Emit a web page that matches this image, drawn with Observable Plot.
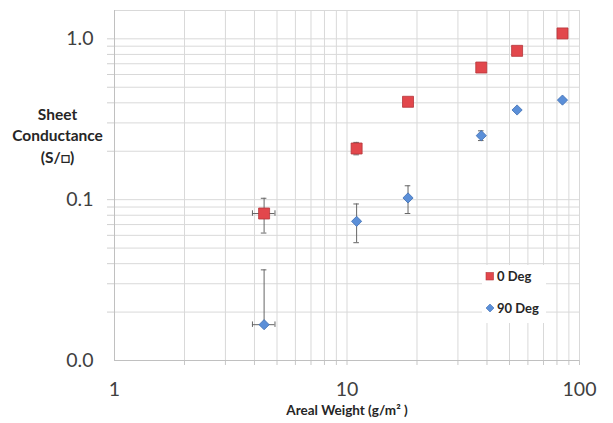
<!DOCTYPE html>
<html>
<head>
<meta charset="utf-8">
<script src="https://cdn.jsdelivr.net/npm/d3@7"></script>
<script src="https://cdn.jsdelivr.net/npm/@observablehq/plot@0.6"></script>
<style>
  html, body { margin: 0; padding: 0; background: #fff; }
  #chart { position: relative; width: 613px; height: 423px; font-family: Lato, "Open Sans", sans-serif; }
  #legend {
    position: absolute; left: 482px; top: 265px; width: 64px; height: 58px;
    background: #fff; font-weight: bold; font-size: 13px; color: #262626;
  }
  #legend .row { position: absolute; left: 3px; display: flex; align-items: center; gap: 2px; }
  #legend svg { display: block; }
</style>
</head>
<body>
<div id="chart">
  <div id="legend"></div>
</div>
<script>
// Areal weight of each sample (g/m²)
const weights = [4.4, 11.0, 18.3, 37.8, 53.9, 84.5];
// Spread in areal weight (only measured for the lightest sample)
const weightLow = [3.92, null, null, null, null, null];
const weightHigh = [4.9, null, null, null, null, null];

// Sheet conductance, 0° orientation (S/□)
const cond0 = [0.082, 0.208, 0.406, 0.663, 0.842, 1.08];
const cond0Low = [0.062, 0.19, null, null, null, null];
const cond0High = [0.102, 0.227, null, null, null, null];

// Sheet conductance, 90° orientation (S/□)
const cond90 = [0.0167, 0.0733, 0.1025, 0.25, 0.361, 0.416];
const cond90Low = [null, 0.054, 0.082, 0.233, null, null];
const cond90High = [0.0366, 0.094, 0.122, 0.268, null, null];

const seriesNames = ["0 Deg", "90 Deg"];
const xTickLabels = [1, 10, 100];
const yTickLabels = [0.01, 0.1, 1];
const xMinor = [2, 3, 4, 5, 6, 7, 8, 9, 10, 20, 30, 40, 50, 60, 70, 80, 90, 100];
const yMinor = [0.02, 0.03, 0.04, 0.05, 0.06, 0.07, 0.08, 0.09, 0.1, 0.2, 0.3, 0.4, 0.5, 0.6, 0.7, 0.8, 0.9, 1];

const style = {
  "0 Deg": {symbol: "square", fill: "#e2474c", stroke: "#b5353a", r: 6.2},
  "90 Deg": {symbol: "diamond2", fill: "#5b8fd8", stroke: "#3f6fb3", r: 4.6}
};

const rows = [];
[[cond0, cond0Low, cond0High], [cond90, cond90Low, cond90High]].forEach(([v, lo, hi], s) => {
  weights.forEach((w, i) => rows.push({
    series: seriesNames[s], x: w, y: v[i], ylo: lo[i], yhi: hi[i],
    xlo: weightLow[i], xhi: weightHigh[i]
  }));
});

const capX = 1.028;  // half-width of vertical bar caps (multiplicative on log x)
const capY = 1.04;   // half-height of horizontal bar caps (multiplicative on log y)
const errColor = "#666";

const marks = [
  Plot.gridX(xMinor, {stroke: "#d9d9d9", strokeOpacity: 1}),
  Plot.gridY(yMinor, {stroke: "#d9d9d9", strokeOpacity: 1}),
  Plot.frame({stroke: "#d9d9d9"}),
  Plot.axisX({ticks: xMinor, tickSize: 5, tickFormat: () => "", stroke: "#c8c8c8"}),
  Plot.axisY({ticks: yMinor, tickSize: 7, tickFormat: () => "", stroke: "#d0d0d0"}),
  Plot.axisX({ticks: xTickLabels, tickSize: 0, tickPadding: 22, tickFormat: d => String(d),
    fontSize: 19.5, fill: "#404040"}),
  Plot.axisY({ticks: yTickLabels, tickSize: 0, tickPadding: 21, tickFormat: d => d.toFixed(1),
    fontSize: 19.5, fill: "#404040"}),
  Plot.ruleX([1], {stroke: "#c0c0c0"}),
  Plot.ruleY([0.01], {stroke: "#c0c0c0"}),
  // vertical error bars
  Plot.ruleX(rows.filter(d => d.yhi != null), {x: "x", y1: "y", y2: "yhi", stroke: errColor}),
  Plot.ruleX(rows.filter(d => d.ylo != null), {x: "x", y1: "ylo", y2: "y", stroke: errColor}),
  Plot.ruleY(rows.filter(d => d.yhi != null), {y: "yhi", x1: d => d.x / capX, x2: d => d.x * capX, stroke: errColor}),
  Plot.ruleY(rows.filter(d => d.ylo != null), {y: "ylo", x1: d => d.x / capX, x2: d => d.x * capX, stroke: errColor}),
  // horizontal error bars
  Plot.ruleY(rows.filter(d => d.xlo != null), {y: "y", x1: "xlo", x2: "xhi", stroke: errColor}),
  Plot.ruleX(rows.filter(d => d.xlo != null), {x: "xlo", y1: d => d.y / capY, y2: d => d.y * capY, stroke: errColor}),
  Plot.ruleX(rows.filter(d => d.xhi != null), {x: "xhi", y1: d => d.y / capY, y2: d => d.y * capY, stroke: errColor}),
  // markers
  ...seriesNames.map(name => Plot.dot(rows.filter(d => d.series === name), {
    x: "x", y: "y", symbol: () => style[name].symbol, r: style[name].r,
    fill: style[name].fill, stroke: style[name].stroke, strokeWidth: 0.8
  })),
  // axis titles
  Plot.text(["Areal Weight (g/m² )"], {frameAnchor: "bottom", dy: 54, fontSize: 13.5,
    fontWeight: "bold", fill: "#262626"}),
  Plot.text(["Sheet\nConductance\n(S/□)"], {frameAnchor: "left", dx: -57, dy: -51, lineHeight: 1.4,
    fontSize: 15.5, fontWeight: "bold", fill: "#262626", textAnchor: "middle"})
];

const svg = Plot.plot({
  width: 613,
  height: 423,
  marginLeft: 114,
  marginRight: 34,
  marginTop: 10,
  marginBottom: 63,
  style: {fontFamily: "Lato, 'Open Sans', sans-serif", background: "#fff"},
  x: {type: "log", domain: [1, 100]},
  y: {type: "log", domain: [0.01, 1.5]},
  symbol: {type: "identity"},
  marks
});
document.getElementById("chart").prepend(svg);

// legend
const legend = document.getElementById("legend");
seriesNames.forEach((name, i) => {
  const row = document.createElement("div");
  row.className = "row";
  row.style.top = (i === 0 ? 3 : 35) + "px";
  const sw = d3.create("svg").attr("width", 10).attr("height", 12);
  if (style[name].symbol === "square") {
    sw.append("rect").attr("x", 1).attr("y", 2.5).attr("width", 7.5).attr("height", 7.5)
      .attr("fill", style[name].fill).attr("stroke", style[name].stroke).attr("stroke-width", 0.6);
  } else {
    sw.append("path").attr("d", "M5,2 L9,6 L5,10 L1,6 Z")
      .attr("fill", style[name].fill).attr("stroke", style[name].stroke).attr("stroke-width", 0.6);
  }
  row.append(sw.node());
  const label = document.createElement("span");
  label.textContent = name;
  row.append(label);
  legend.append(row);
});
</script>
</body>
</html>
